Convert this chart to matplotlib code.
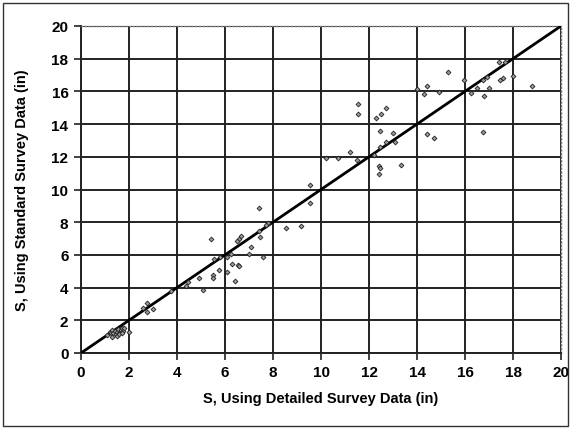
import matplotlib
matplotlib.use("Agg")
import matplotlib.pyplot as plt
from matplotlib.patches import Rectangle

plt.rcParams['font.family'] = ['Liberation Sans', 'DejaVu Sans']

# Detailed survey S (x) vs standard survey S (y), inches
detailed = [1.1, 1.2, 1.25, 1.3, 1.35, 1.4, 1.45, 1.5, 1.55, 1.6, 1.65, 1.7, 1.75, 1.8, 1.3, 1.5, 1.6, 1.7, 2.0,
            2.58, 2.75, 2.75, 3.0, 3.75, 4.375, 4.45, 4.9, 5.1, 5.5, 5.5, 5.75, 5.55, 5.4, 5.8,
            6.1, 6.4, 6.3, 6.55, 6.6, 6.25, 6.1, 6.6, 6.67, 6.5, 7.1, 7.0, 7.6, 7.45, 7.4, 7.4,
            7.8, 7.7, 8.55, 9.15, 9.55, 9.55,
            10.2, 10.7, 11.2, 11.5, 11.55, 11.55, 12.3, 12.5, 12.7, 12.46, 13.0, 12.7, 13.1,
            12.46, 12.2, 12.4, 12.46, 12.4, 13.33,
            14.0, 14.4, 14.3, 14.9, 14.4, 14.7, 15.3, 15.95, 16.75, 16.9, 17.4, 17.65, 17.45,
            17.6, 18.0, 18.8, 16.25, 16.5, 16.8, 17.0, 16.75]
standard = [1.1, 1.3, 1.2, 1.4, 1.25, 1.35, 1.15, 1.3, 1.45, 1.2, 1.4, 1.5, 1.35, 1.55, 1.0, 1.05, 1.15, 1.25, 1.3,
            2.75, 3.06, 2.5, 2.7, 3.8, 4.1, 4.34, 4.6, 3.85, 4.8, 4.6, 5.1, 5.75, 6.97, 5.9,
            4.95, 4.4, 5.45, 5.4, 5.35, 6.05, 5.9, 6.97, 7.16, 6.85, 6.5, 6.05, 5.9, 7.1, 7.45, 8.87,
            7.95, 7.8, 7.64, 7.77, 10.3, 9.2,
            11.9, 11.9, 12.3, 11.8, 14.6, 15.2, 14.4, 14.6, 15.0, 13.6, 13.45, 12.9, 12.9,
            12.6, 12.1, 11.45, 11.3, 10.95, 11.5,
            16.15, 16.3, 15.85, 15.95, 13.4, 13.15, 17.2, 16.7, 16.7, 16.9, 17.8, 17.8, 16.7,
            16.8, 16.95, 16.3, 15.9, 16.2, 15.7, 16.2, 13.5]

line_x = [0, 20]
line_y = [0, 20]
ticks = [0, 2, 4, 6, 8, 10, 12, 14, 16, 18, 20]

fig = plt.figure(figsize=(5.71, 4.31), dpi=100)
ax = fig.add_axes([81/571, 1 - 354/431, 480/571, 327/431])

ax.set_xlim(0, 20)
ax.set_ylim(0, 20)
ax.set_xticks(ticks)
ax.set_yticks(ticks)
ax.grid(True, color='#222222', linewidth=1.4)
ax.set_axisbelow(True)

ax.plot(line_x, line_y, color='black', linewidth=2.0, zorder=3)
ax.scatter(detailed, standard, marker='D', s=6, facecolors='#999999',
           edgecolors='#222222', linewidths=0.6, zorder=4)

for side in ['top', 'right']:
    ax.spines[side].set_linestyle(':')
    ax.spines[side].set_color('#777777')
    ax.spines[side].set_linewidth(1.0)
for side in ['left', 'bottom']:
    ax.spines[side].set_color('#222222')
    ax.spines[side].set_linewidth(1.4)

ax.tick_params(axis='both', direction='out', length=5, width=1.2, color='#222222',
               labelsize=11, pad=4)
for lab in ax.get_xticklabels() + ax.get_yticklabels():
    lab.set_fontweight('bold')

ax.set_xlabel('S, Using Detailed Survey Data (in)', fontsize=10.5, fontweight='bold', labelpad=8)
ax.set_ylabel('S, Using Standard Survey Data (in)', fontsize=10.5, fontweight='bold', labelpad=16)

fig.patches.append(Rectangle((3/571, 4/431), 565/571, 423/431, transform=fig.transFigure,
                             fill=False, edgecolor='#333333', linewidth=1.0))

fig.savefig('out.png', dpi=100)
